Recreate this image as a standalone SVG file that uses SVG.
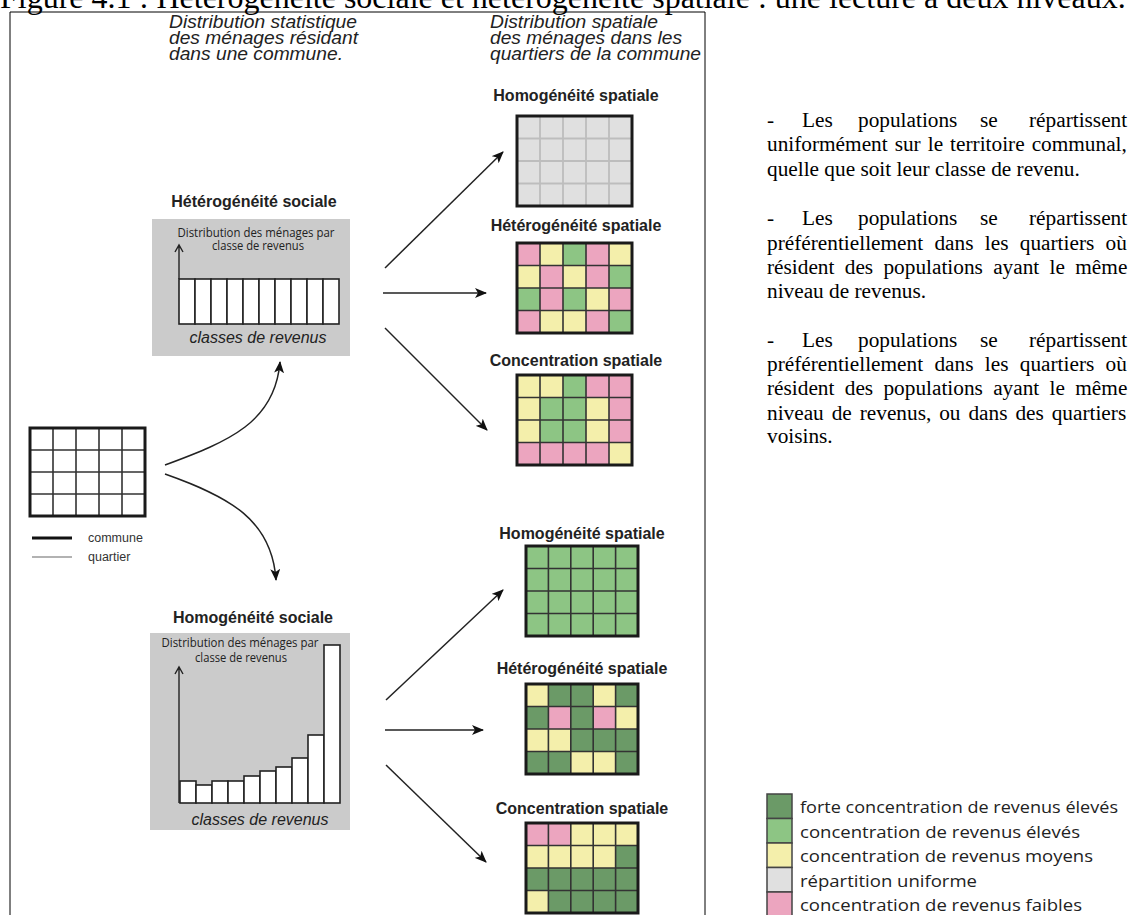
<svg xmlns="http://www.w3.org/2000/svg" xmlns:xlink="http://www.w3.org/1999/xlink" width="1132" height="915" viewBox="0 0 1132 915">
<style>
.bg{fill:#ffffff}
.frame{fill:none;stroke:#000;stroke-width:1}
.hdr{font-family:"Liberation Sans",Arial,sans-serif;font-style:italic;font-size:18.5px;fill:#222}
.ttl{font-family:"Liberation Sans",Arial,sans-serif;font-weight:bold;font-size:16px;fill:#222;text-anchor:middle}
.box{fill:#cbcbcb}
.small{font-family:"Open Sans","Noto Sans",sans-serif;font-size:13.5px;fill:#222;text-anchor:middle}
.cls{font-family:"Liberation Sans",Arial,sans-serif;font-style:italic;font-size:16px;fill:#222;text-anchor:middle}
.bar{fill:#fff;stroke:#222;stroke-width:1.6}
.axis{fill:none;stroke:#222;stroke-width:1.4}
.d{fill:#6b9a67}.g{fill:#8dc584}.y{fill:#f4efab}.p{fill:#eca5bf}.u{fill:#e0e0e0}.w{fill:#fff}
.gl{fill:none;stroke:#333;stroke-width:1.6}
.glu{fill:none;stroke:#bdbdbd;stroke-width:1.8}
.bd{fill:none;stroke:#1a1a1a;stroke-width:3}
.conn{fill:none;stroke:#222;stroke-width:1.5}
.body{font-family:"Liberation Serif","Times New Roman",serif;font-size:21.3px;fill:#000}
.leg{font-family:"Open Sans","Noto Sans",sans-serif;font-size:17px;fill:#222}
.lsq{stroke:#444;stroke-width:1.5}
.lab{font-family:"Liberation Sans",Arial,sans-serif;font-size:12.5px;fill:#333}
</style>
<defs>
<marker id="ah" viewBox="0 0 12 10" refX="11" refY="5" markerWidth="12" markerHeight="10" orient="auto" markerUnits="userSpaceOnUse"><path d="M0,0 L12,5 L0,10 L3,5 z" fill="#111"/></marker>
<path id="glT" d="M23,0V90M46,0V90M69,0V90M92,0V90M0,22.5H115M0,45H115M0,67.5H115"/>
<path id="glB" d="M22.4,0V90M44.8,0V90M67.2,0V90M89.6,0V90M0,22.5H112M0,45H112M0,67.5H112"/>
<path id="glL" d="M23,0V88M46,0V88M69,0V88M92,0V88M0,22H115M0,44H115M0,66H115"/>
</defs>
<rect class="bg" x="0" y="0" width="1132" height="915"/>

<g id="title">
<text x="0" y="8" font-family="Liberation Serif,'Times New Roman',serif" font-size="32" fill="#000">Figure 4.1 : Hétérogénéité sociale et hétérogénéité spatiale : une lecture à deux niveaux.</text>
</g>

<g id="frame">
<path class="frame" d="M10,930V12H705V930"/>
</g>

<g id="header-left">
<text class="hdr" x="169" y="28" textLength="188" lengthAdjust="spacingAndGlyphs">Distribution statistique</text>
<text class="hdr" x="169" y="44" textLength="189" lengthAdjust="spacingAndGlyphs">des ménages résidant</text>
<text class="hdr" x="169" y="60" textLength="174" lengthAdjust="spacingAndGlyphs">dans une commune.</text>
</g>
<g id="header-right">
<text class="hdr" x="490" y="28" textLength="168" lengthAdjust="spacingAndGlyphs">Distribution spatiale</text>
<text class="hdr" x="490" y="44" textLength="192" lengthAdjust="spacingAndGlyphs">des ménages dans les</text>
<text class="hdr" x="490" y="60" textLength="211" lengthAdjust="spacingAndGlyphs">quartiers de la commune</text>
</g>

<g id="commune">
<rect class="w" x="30" y="428" width="115" height="88"/>
<use xlink:href="#glL" x="30" y="428" class="gl"/>
<rect class="bd" x="30" y="428" width="115" height="88"/>
<line x1="32" y1="538" x2="72" y2="538" stroke="#111" stroke-width="3"/>
<line x1="32" y1="557" x2="72" y2="557" stroke="#666" stroke-width="1.2"/>
<text class="lab" x="88" y="542">commune</text>
<text class="lab" x="88" y="561">quartier</text>
</g>

<g id="heterogeneite-sociale">
<text class="ttl" x="254" y="207">Hétérogénéité sociale</text>
<rect class="box" x="152" y="219" width="198" height="137"/>
<text class="small" x="256" y="237" textLength="157" lengthAdjust="spacingAndGlyphs">Distribution des ménages par</text>
<text class="small" x="258" y="250" textLength="92" lengthAdjust="spacingAndGlyphs">classe de revenus</text>
<path class="axis" d="M179,279V246M175,252L179,245L183,252"/>
<rect class="bar" x="179" y="279" width="16" height="45"/>
<rect class="bar" x="195" y="279" width="16" height="45"/>
<rect class="bar" x="211" y="279" width="16" height="45"/>
<rect class="bar" x="227" y="279" width="16" height="45"/>
<rect class="bar" x="243" y="279" width="16" height="45"/>
<rect class="bar" x="259" y="279" width="16" height="45"/>
<rect class="bar" x="275" y="279" width="16" height="45"/>
<rect class="bar" x="291" y="279" width="16" height="45"/>
<rect class="bar" x="307" y="279" width="16" height="45"/>
<rect class="bar" x="323" y="279" width="16" height="45"/>
<text class="cls" x="258" y="343">classes de revenus</text>
</g>

<g id="homogeneite-sociale">
<text class="ttl" x="253" y="623">Homogénéité sociale</text>
<rect class="box" x="150" y="633" width="200" height="197"/>
<text class="small" x="240" y="647" textLength="157" lengthAdjust="spacingAndGlyphs">Distribution des ménages par</text>
<text class="small" x="241" y="662" textLength="92" lengthAdjust="spacingAndGlyphs">classe de revenus</text>
<path class="axis" d="M179,803V668M175,674L179,667L183,674"/>
<rect class="bar" x="180" y="781" width="16" height="22"/>
<rect class="bar" x="196" y="785" width="16" height="18"/>
<rect class="bar" x="212" y="781" width="16" height="22"/>
<rect class="bar" x="228" y="781" width="16" height="22"/>
<rect class="bar" x="244" y="776" width="16" height="27"/>
<rect class="bar" x="260" y="771" width="16" height="32"/>
<rect class="bar" x="276" y="767" width="16" height="36"/>
<rect class="bar" x="292" y="758" width="16" height="45"/>
<rect class="bar" x="308" y="735" width="16" height="68"/>
<rect class="bar" x="324" y="645" width="16" height="158"/>
<text class="cls" x="260" y="825">classes de revenus</text>
</g>

<g id="grid-top-homogeneite">
<text class="ttl" x="576" y="101">Homogénéité spatiale</text>
<rect class="u" x="517" y="116" width="115" height="90"/>
<use xlink:href="#glT" x="517" y="116" class="glu"/>
<rect class="bd" x="517" y="116" width="115" height="90"/>
</g>

<g id="grid-top-heterogeneite">
<text class="ttl" x="576" y="231">Hétérogénéité spatiale</text>
<rect class="p" x="517" y="243" width="23" height="22.5"/><rect class="y" x="540" y="243" width="23" height="22.5"/><rect class="g" x="563" y="243" width="23" height="22.5"/><rect class="p" x="586" y="243" width="23" height="22.5"/><rect class="y" x="609" y="243" width="23" height="22.5"/>
<rect class="y" x="517" y="265.5" width="23" height="22.5"/><rect class="p" x="540" y="265.5" width="23" height="22.5"/><rect class="y" x="563" y="265.5" width="23" height="22.5"/><rect class="p" x="586" y="265.5" width="23" height="22.5"/><rect class="g" x="609" y="265.5" width="23" height="22.5"/>
<rect class="g" x="517" y="288" width="23" height="22.5"/><rect class="p" x="540" y="288" width="23" height="22.5"/><rect class="g" x="563" y="288" width="23" height="22.5"/><rect class="y" x="586" y="288" width="23" height="22.5"/><rect class="p" x="609" y="288" width="23" height="22.5"/>
<rect class="p" x="517" y="310.5" width="23" height="22.5"/><rect class="y" x="540" y="310.5" width="23" height="22.5"/><rect class="y" x="563" y="310.5" width="23" height="22.5"/><rect class="p" x="586" y="310.5" width="23" height="22.5"/><rect class="g" x="609" y="310.5" width="23" height="22.5"/>
<use xlink:href="#glT" x="517" y="243" class="gl"/>
<rect class="bd" x="517" y="243" width="115" height="90"/>
</g>

<g id="grid-top-concentration">
<text class="ttl" x="576" y="366">Concentration spatiale</text>
<rect class="y" x="517" y="375" width="23" height="22.5"/><rect class="y" x="540" y="375" width="23" height="22.5"/><rect class="g" x="563" y="375" width="23" height="22.5"/><rect class="p" x="586" y="375" width="23" height="22.5"/><rect class="p" x="609" y="375" width="23" height="22.5"/>
<rect class="y" x="517" y="397.5" width="23" height="22.5"/><rect class="g" x="540" y="397.5" width="23" height="22.5"/><rect class="g" x="563" y="397.5" width="23" height="22.5"/><rect class="y" x="586" y="397.5" width="23" height="22.5"/><rect class="p" x="609" y="397.5" width="23" height="22.5"/>
<rect class="y" x="517" y="420" width="23" height="22.5"/><rect class="g" x="540" y="420" width="23" height="22.5"/><rect class="g" x="563" y="420" width="23" height="22.5"/><rect class="y" x="586" y="420" width="23" height="22.5"/><rect class="p" x="609" y="420" width="23" height="22.5"/>
<rect class="p" x="517" y="442.5" width="23" height="22.5"/><rect class="p" x="540" y="442.5" width="23" height="22.5"/><rect class="p" x="563" y="442.5" width="23" height="22.5"/><rect class="p" x="586" y="442.5" width="23" height="22.5"/><rect class="y" x="609" y="442.5" width="23" height="22.5"/>
<use xlink:href="#glT" x="517" y="375" class="gl"/>
<rect class="bd" x="517" y="375" width="115" height="90"/>
</g>

<g id="grid-bottom-homogeneite">
<text class="ttl" x="582" y="539">Homogénéité spatiale</text>
<rect class="g" x="526" y="546" width="112" height="90"/>
<use xlink:href="#glB" x="526" y="546" class="gl"/>
<rect class="bd" x="526" y="546" width="112" height="90"/>
</g>

<g id="grid-bottom-heterogeneite">
<text class="ttl" x="582" y="674">Hétérogénéité spatiale</text>
<rect class="y" x="526" y="684" width="22.4" height="22.5"/><rect class="d" x="548.4" y="684" width="22.4" height="22.5"/><rect class="d" x="570.8" y="684" width="22.4" height="22.5"/><rect class="y" x="593.2" y="684" width="22.4" height="22.5"/><rect class="d" x="615.6" y="684" width="22.4" height="22.5"/>
<rect class="d" x="526" y="706.5" width="22.4" height="22.5"/><rect class="p" x="548.4" y="706.5" width="22.4" height="22.5"/><rect class="d" x="570.8" y="706.5" width="22.4" height="22.5"/><rect class="p" x="593.2" y="706.5" width="22.4" height="22.5"/><rect class="y" x="615.6" y="706.5" width="22.4" height="22.5"/>
<rect class="y" x="526" y="729" width="22.4" height="22.5"/><rect class="y" x="548.4" y="729" width="22.4" height="22.5"/><rect class="d" x="570.8" y="729" width="22.4" height="22.5"/><rect class="d" x="593.2" y="729" width="22.4" height="22.5"/><rect class="d" x="615.6" y="729" width="22.4" height="22.5"/>
<rect class="d" x="526" y="751.5" width="22.4" height="22.5"/><rect class="d" x="548.4" y="751.5" width="22.4" height="22.5"/><rect class="y" x="570.8" y="751.5" width="22.4" height="22.5"/><rect class="y" x="593.2" y="751.5" width="22.4" height="22.5"/><rect class="d" x="615.6" y="751.5" width="22.4" height="22.5"/>
<use xlink:href="#glB" x="526" y="684" class="gl"/>
<rect class="bd" x="526" y="684" width="112" height="90"/>
</g>

<g id="grid-bottom-concentration">
<text class="ttl" x="582" y="814">Concentration spatiale</text>
<rect class="p" x="526" y="823" width="22.4" height="22.5"/><rect class="p" x="548.4" y="823" width="22.4" height="22.5"/><rect class="y" x="570.8" y="823" width="22.4" height="22.5"/><rect class="y" x="593.2" y="823" width="22.4" height="22.5"/><rect class="y" x="615.6" y="823" width="22.4" height="22.5"/>
<rect class="y" x="526" y="845.5" width="22.4" height="22.5"/><rect class="y" x="548.4" y="845.5" width="22.4" height="22.5"/><rect class="y" x="570.8" y="845.5" width="22.4" height="22.5"/><rect class="y" x="593.2" y="845.5" width="22.4" height="22.5"/><rect class="d" x="615.6" y="845.5" width="22.4" height="22.5"/>
<rect class="d" x="526" y="868" width="112" height="22.5"/>
<rect class="y" x="526" y="890.5" width="22.4" height="22.5"/><rect class="d" x="548.4" y="890.5" width="89.6" height="22.5"/>
<use xlink:href="#glB" x="526" y="823" class="gl"/>
<rect class="bd" x="526" y="823" width="112" height="90"/>
</g>

<g id="connectors">
<path class="conn" marker-end="url(#ah)" d="M165,465C230,441 275,422 280,362"/>
<path class="conn" marker-end="url(#ah)" d="M165,474C230,497 272,520 276,580"/>
<path class="conn" marker-end="url(#ah)" d="M385,268L503,152"/>
<path class="conn" marker-end="url(#ah)" d="M383,293L486,293"/>
<path class="conn" marker-end="url(#ah)" d="M385,328L487,430"/>
<path class="conn" marker-end="url(#ah)" d="M386,700L503,590"/>
<path class="conn" marker-end="url(#ah)" d="M385,730L483,730"/>
<path class="conn" marker-end="url(#ah)" d="M386,765L486,862"/>
</g>

<g id="description">
<text class="body" y="127"><tspan x="767">-</tspan><tspan x="802">Les</tspan><tspan x="858">populations</tspan><tspan x="980">se</tspan><tspan x="1029">répartissent</tspan></text>
<text class="body" x="767" y="151" word-spacing="1.7">uniformément sur le territoire communal,</text>
<text class="body" x="767" y="176">quelle que soit leur classe de revenu.</text>

<text class="body" y="225"><tspan x="767">-</tspan><tspan x="802">Les</tspan><tspan x="858">populations</tspan><tspan x="980">se</tspan><tspan x="1029">répartissent</tspan></text>
<text class="body" x="767" y="250" word-spacing="6">préférentiellement dans les quartiers où</text>
<text class="body" x="767" y="274" word-spacing="5">résident des populations ayant le même</text>
<text class="body" x="767" y="298">niveau de revenus.</text>

<text class="body" y="347"><tspan x="767">-</tspan><tspan x="802">Les</tspan><tspan x="858">populations</tspan><tspan x="980">se</tspan><tspan x="1029">répartissent</tspan></text>
<text class="body" x="767" y="371" word-spacing="6">préférentiellement dans les quartiers où</text>
<text class="body" x="767" y="395" word-spacing="5">résident des populations ayant le même</text>
<text class="body" x="767" y="420" word-spacing="2.6">niveau de revenus, ou dans des quartiers</text>
<text class="body" x="767" y="443">voisins.</text>
</g>

<g id="legend">
<rect class="lsq d" x="767" y="794" width="25" height="24.5"/>
<rect class="lsq g" x="767" y="818.5" width="25" height="24.5"/>
<rect class="lsq y" x="767" y="843" width="25" height="24.5"/>
<rect class="lsq u" x="767" y="867.5" width="25" height="24.5"/>
<rect class="lsq p" x="767" y="892" width="25" height="24.5"/>
<text class="leg" x="800" y="813" textLength="318" lengthAdjust="spacingAndGlyphs">forte concentration de revenus élevés</text>
<text class="leg" x="800" y="837.5" textLength="280" lengthAdjust="spacingAndGlyphs">concentration de revenus élevés</text>
<text class="leg" x="800" y="862" textLength="293" lengthAdjust="spacingAndGlyphs">concentration de revenus moyens</text>
<text class="leg" x="800" y="886.5" textLength="177" lengthAdjust="spacingAndGlyphs">répartition uniforme</text>
<text class="leg" x="800" y="911" textLength="282" lengthAdjust="spacingAndGlyphs">concentration de revenus faibles</text>
</g>
</svg>
